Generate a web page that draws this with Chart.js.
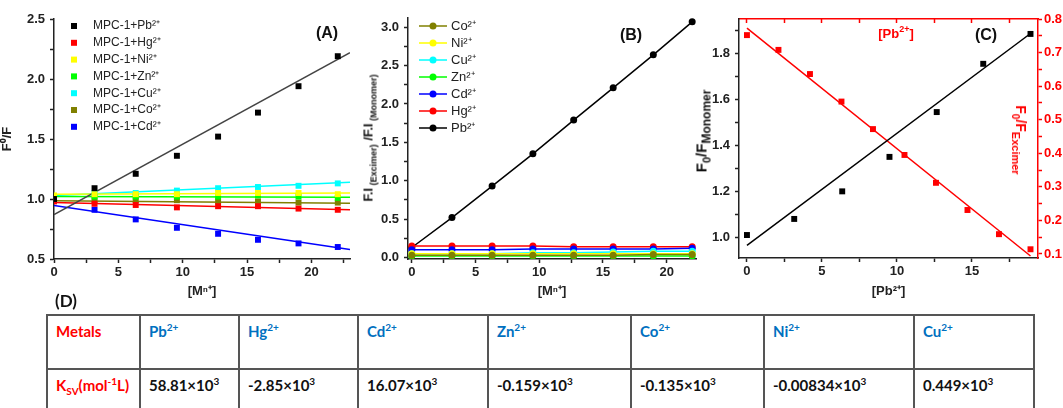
<!DOCTYPE html>
<html lang="en">
<head>
<meta charset="UTF-8" />
<title>MPC-1 quenching plots</title>
<script src="https://cdn.jsdelivr.net/npm/chart.js"></script>
<style>
  body {
    margin: 0;
    width: 1063px;
    height: 408px;
    overflow: hidden;
    background: #fff;
    position: relative;
    font-family: "Liberation Sans", Arial, sans-serif;
  }
  canvas { position: absolute; top: 0; }
  #chartA { left: 0; }
  #chartB { left: 355px; }
  #chartC { left: 690px; }
  .tag {
    position: absolute;
    transform: translate(-50%, -50%);
    white-space: nowrap;
    font-weight: bold;
    color: #111;
  }
  .panel { font-size: 16px; }
  .rotL { transform: translate(-50%, -50%) rotate(-90deg); }
  .rotR { transform: translate(-50%, -50%) rotate(90deg); }
  .tag sub, .tag sup { line-height: 0; }
  table {
    position: absolute;
    left: 46px;
    top: 314px;
    border-collapse: collapse;
    table-layout: fixed;
    font-family: Lato, "Open Sans", sans-serif;
    font-weight: bold;
    font-size: 15px;
  }
  td {
    border: 2px solid #555;
    height: 46px;
    vertical-align: top;
    padding: 6px 8px 0 8px;
    line-height: 18px;
    color: #111;
  }
  td sup, td sub { font-size: 10px; line-height: 0; }
  .red { color: #ff0000; }
  .blue { color: #0070c0; }
</style>
</head>
<body>
<canvas id="chartA" width="355" height="300"></canvas>
<canvas id="chartB" width="345" height="300"></canvas>
<canvas id="chartC" width="373" height="300"></canvas>

<div class="tag panel" style="left:327px; top:33px;">(A)</div>
<div class="tag panel" style="left:631px; top:35px;">(B)</div>
<div class="tag panel" style="left:986px; top:35px;">(C)</div>

<div class="tag rotL" style="left:368px; top:138px; font-size:13px;">F.I<sub style="font-size:9px;"> (Excimer)</sub> /F.I<sub style="font-size:9px;"> (Monomer)</sub></div>
<div class="tag rotL" style="left:701px; top:131px; font-size:15px;">F<sub style="font-size:11px;">0</sub>/F<sub style="font-size:12px;">Monomer</sub></div>
<div class="tag rotR" style="left:1021px; top:140px; font-size:14px; color:#ff0000;">F<sub style="font-size:10px;">0</sub>/F<sub style="font-size:11px;">Excimer</sub></div>
<div class="tag" style="left:896px; top:33px; font-size:13px; color:#ff0000;">[Pb<sup style="font-size:9px;">2+</sup>]</div>

<div class="tag" style="left:66px; top:300px; font-size:17px; font-family:Lato, sans-serif;">(D)</div>

<table>
  <colgroup>
    <col style="width:93px"><col style="width:99px"><col style="width:119px"><col style="width:130px">
    <col style="width:143px"><col style="width:133px"><col style="width:150px"><col style="width:120px">
  </colgroup>
  <tr>
    <td class="red">Metals</td>
    <td class="blue">Pb<sup>2+</sup></td>
    <td class="blue">Hg<sup>2+</sup></td>
    <td class="blue">Cd<sup>2+</sup></td>
    <td class="blue">Zn<sup>2+</sup></td>
    <td class="blue">Co<sup>2+</sup></td>
    <td class="blue">Ni<sup>2+</sup></td>
    <td class="blue">Cu<sup>2+</sup></td>
  </tr>
  <tr>
    <td class="red">K<sub>SV</sub>(mol<sup>-1</sup>L)</td>
    <td>58.81×10<sup>3</sup></td>
    <td>-2.85×10<sup>3</sup></td>
    <td>16.07×10<sup>3</sup></td>
    <td>-0.159×10<sup>3</sup></td>
    <td>-0.135×10<sup>3</sup></td>
    <td>-0.00834×10<sup>3</sup></td>
    <td>0.449×10<sup>3</sup></td>
  </tr>
</table>

<script>
  const FONT = '"Liberation Sans", Arial, sans-serif';

  // ---- (A) F0/F vs [M n+] ----
  const aX = [0, 3.15, 6.35, 9.55, 12.75, 15.85, 19.0, 22.05];
  const aPb = [1.00, 1.09, 1.21, 1.36, 1.52, 1.72, 1.94, 2.19];
  const aHg = [0.98, 0.96, 0.95, 0.93, 0.94, 0.94, 0.92, 0.91];
  const aNi = [1.03, 1.04, 1.04, 1.04, 1.05, 1.05, 1.05, 1.04];
  const aZn = [1.00, 1.02, 1.02, 1.02, 1.02, 1.03, 1.02, 1.01];
  const aCu = [1.00, 1.05, 1.05, 1.07, 1.09, 1.10, 1.11, 1.13];
  const aCo = [1.00, 0.99, 0.99, 0.99, 0.98, 0.98, 0.97, 0.97];
  const aCd = [1.00, 0.91, 0.83, 0.76, 0.71, 0.66, 0.63, 0.60];
  // fitted lines, read at both ends
  const aFitX = [0, 23];
  const aFitPb = [0.87, 2.22];
  const aFitHg = [0.97, 0.91];
  const aFitNi = [1.04, 1.05];
  const aFitZn = [1.02, 1.015];
  const aFitCu = [1.03, 1.14];
  const aFitCo = [0.985, 0.965];
  const aFitCd = [0.945, 0.58];
  const aNames = ['MPC-1+Pb²⁺', 'MPC-1+Hg²⁺', 'MPC-1+Ni²⁺', 'MPC-1+Zn²⁺', 'MPC-1+Cu²⁺', 'MPC-1+Co²⁺', 'MPC-1+Cd²⁺'];
  const aXMajor = [0, 5, 10, 15, 20];
  const aXMinor = [2.5, 7.5, 12.5, 17.5, 22.5];
  const aYMajor = [0.5, 1.0, 1.5, 2.0, 2.5];
  const aYMinor = [0.75, 1.25, 1.75, 2.25];

  // ---- (B) F.I excimer / F.I monomer ----
  const bX = [0, 3.15, 6.3, 9.5, 12.7, 15.8, 18.95, 22.0];
  const bCo = [0.03, 0.03, 0.03, 0.03, 0.03, 0.03, 0.04, 0.04];
  const bNi = [0.05, 0.05, 0.05, 0.05, 0.05, 0.05, 0.05, 0.05];
  const bCu = [0.05, 0.05, 0.05, 0.06, 0.06, 0.07, 0.08, 0.08];
  const bZn = [0.02, 0.02, 0.02, 0.02, 0.02, 0.02, 0.02, 0.02];
  const bCd = [0.10, 0.10, 0.10, 0.11, 0.11, 0.11, 0.11, 0.12];
  const bHg = [0.15, 0.15, 0.15, 0.15, 0.14, 0.14, 0.14, 0.14];
  const bPb = [0.13, 0.52, 0.93, 1.35, 1.79, 2.21, 2.64, 3.07];
  const bNames = ['Co²⁺', 'Ni²⁺', 'Cu²⁺', 'Zn²⁺', 'Cd²⁺', 'Hg²⁺', 'Pb²⁺'];
  const bXMajor = [0, 5, 10, 15, 20];
  const bXMinor = [2.5, 7.5, 12.5, 17.5];
  const bYMajor = [0.0, 0.5, 1.0, 1.5, 2.0, 2.5, 3.0];
  const bYMinor = [0.25, 0.75, 1.25, 1.75, 2.25, 2.75];

  // ---- (C) monomer (left) and excimer (right) vs [Pb2+] ----
  const cMonoX = [0, 3.15, 6.35, 9.5, 12.65, 15.75, 18.9];
  const cMono = [1.01, 1.08, 1.20, 1.35, 1.545, 1.755, 1.885];
  const cMonoFitX = [0, 18.9];
  const cMonoFit = [0.965, 1.887];
  const cExciX = [0, 2.1, 4.2, 6.3, 8.4, 10.5, 12.6, 14.7, 16.8, 18.9];
  const cExci = [0.752, 0.708, 0.636, 0.554, 0.472, 0.395, 0.312, 0.231, 0.159, 0.114];
  const cExciFitX = [0, 18.9];
  const cExciFit = [0.773, 0.094];
  const cXMajor = [0, 5, 10, 15];
  const cXMinor = [2.5, 7.5, 12.5, 17.5];
  const cYMajor = [1.0, 1.2, 1.4, 1.6, 1.8];
  const cYMinor = [1.1, 1.3, 1.5, 1.7, 1.9];
  const cY2Major = [0.1, 0.2, 0.3, 0.4, 0.5, 0.6, 0.7, 0.8];
  const cY2Minor = [0.15, 0.25, 0.35, 0.45, 0.55, 0.65, 0.75];

  const metalColors = {
    Pb: '#000000', Hg: '#ff0000', Ni: '#ffff00', Zn: '#00ff00',
    Cu: '#00ffff', Co: '#808000', Cd: '#0000ff'
  };

  function pts(xs, ys) {
    return xs.map((x, i) => ({ x: x, y: ys[i] }));
  }

  // legend drawn inside the plot area
  const insideLegend = {
    id: 'insideLegend',
    afterDatasetsDraw(chart, args, o) {
      if (!o || !o.names) return;
      const ctx = chart.ctx;
      ctx.save();
      ctx.font = o.size + 'px ' + FONT;
      ctx.textBaseline = 'middle';
      o.names.forEach((name, i) => {
        const y = o.y + i * o.row;
        const c = o.colors[i];
        ctx.fillStyle = c;
        ctx.strokeStyle = c;
        if (o.line) {
          ctx.lineWidth = 1.5;
          ctx.beginPath();
          ctx.moveTo(o.x - 14, y);
          ctx.lineTo(o.x + 14, y);
          ctx.stroke();
          ctx.beginPath();
          ctx.arc(o.x, y, 3.5, 0, Math.PI * 2);
          ctx.fill();
        } else {
          ctx.fillRect(o.x - 3, y - 3, 6, 6);
        }
        ctx.fillStyle = '#222';
        ctx.fillText(name, o.tx, y);
      });
      ctx.restore();
    }
  };
  Chart.register(insideLegend);

  function axis(o) {
    const side = o.pos === 'left' || o.pos === 'right';
    const color = o.color || '#222';
    return {
      type: 'linear',
      position: o.pos,
      min: o.min,
      max: o.max,
      afterFit: s => { if (side) s.width = o.size; else s.height = o.size; },
      afterBuildTicks: s => {
        s.ticks = o.major.concat(o.minor).sort((a, b) => a - b).map(v => ({ value: v }));
      },
      ticks: {
        display: o.labels !== false,
        autoSkip: false,
        maxRotation: 0,
        padding: o.pad,
        color: color,
        font: { family: FONT, size: 13, weight: 'bold' },
        callback: v => o.major.includes(v) ? o.fmt(v) : ''
      },
      grid: { drawOnChartArea: false, drawTicks: true, tickLength: o.tl || 4, tickColor: color, tickWidth: 1.5 },
      border: { display: true, color: color, width: 1.5 },
      title: o.title
        ? { display: true, text: o.title, color: color, padding: { top: 0, bottom: 1 },
            font: { family: FONT, size: 13, weight: 'bold' } }
        : { display: false }
    };
  }

  const int = v => String(v);
  const one = v => v.toFixed(1);

  const base = {
    responsive: false,
    maintainAspectRatio: false,
    animation: false,
    events: []
  };

  // ---------- chart A ----------
  const aSeries = [
    ['Pb', aPb, aFitPb], ['Hg', aHg, aFitHg], ['Ni', aNi, aFitNi], ['Zn', aZn, aFitZn],
    ['Cu', aCu, aFitCu], ['Co', aCo, aFitCo], ['Cd', aCd, aFitCd]
  ];
  const aPoints = aSeries.map(s => ({
    label: 'MPC-1+' + s[0], data: pts(aX, s[1]), showLine: false,
    pointStyle: 'rect', pointRadius: 4.2, backgroundColor: metalColors[s[0]], borderWidth: 0
  }));
  const aLines = aSeries.map(s => ({
    label: s[0] + ' fit', data: pts(aFitX, s[2]), showLine: true, pointRadius: 0,
    borderColor: s[0] === 'Pb' ? '#444' : metalColors[s[0]], borderWidth: 1.5
  }));

  new Chart(document.getElementById('chartA'), {
    type: 'scatter',
    data: { datasets: aPoints.concat(aLines) },
    options: Object.assign({}, base, {
      layout: { padding: { left: 0, top: 19, right: 5, bottom: 0 } },
      plugins: {
        legend: { display: false },
        tooltip: { enabled: false },
        insideLegend: {
          names: aNames, colors: aSeries.map(s => metalColors[s[0]]),
          x: 74, tx: 93, y: 26, row: 16.8, size: 12
        }
      },
      scales: {
        x: axis({ pos: 'bottom', min: 0, max: 23, size: 41, pad: 2, major: aXMajor, minor: aXMinor, fmt: int, title: '[Mⁿ⁺]' }),
        y: axis({ pos: 'left', min: 0.5, max: 2.5, size: 54, pad: 5, major: aYMajor, minor: aYMinor, fmt: one, title: 'F⁰/F' })
      }
    })
  });

  // ---------- chart B ----------
  const bSeries = [
    ['Co', bCo], ['Ni', bNi], ['Cu', bCu], ['Zn', bZn], ['Cd', bCd], ['Hg', bHg], ['Pb', bPb]
  ];
  new Chart(document.getElementById('chartB'), {
    type: 'scatter',
    data: {
      datasets: bSeries.map(s => ({
        label: s[0], data: pts(bX, s[1]), showLine: true,
        borderColor: metalColors[s[0]], backgroundColor: metalColors[s[0]], borderWidth: 1.5,
        pointStyle: 'circle', pointRadius: 3.5, pointBorderWidth: 0
      }))
    },
    options: Object.assign({}, base, {
      layout: { padding: { left: 0, top: 18, right: 2, bottom: 0 } },
      plugins: {
        legend: { display: false },
        tooltip: { enabled: false },
        insideLegend: {
          names: bNames, colors: bSeries.map(s => metalColors[s[0]]), line: true,
          x: 78, tx: 96, y: 26, row: 17, size: 13
        }
      },
      scales: {
        x: axis({ pos: 'bottom', min: -0.3, max: 22.3, size: 41, pad: 2, major: bXMajor, minor: bXMinor, fmt: int, title: '[Mⁿ⁺]' }),
        y: axis({ pos: 'left', min: -0.02, max: 3.12, size: 53, pad: 5, major: bYMajor, minor: bYMinor, fmt: one })
      }
    })
  });

  // ---------- chart C ----------
  new Chart(document.getElementById('chartC'), {
    type: 'scatter',
    data: {
      datasets: [
        { label: 'monomer', data: pts(cMonoX, cMono), showLine: false, xAxisID: 'x', yAxisID: 'y',
          pointStyle: 'rect', pointRadius: 4.2, backgroundColor: '#000', borderWidth: 0 },
        { label: 'excimer', data: pts(cExciX, cExci), showLine: false, xAxisID: 'x', yAxisID: 'y2',
          pointStyle: 'rect', pointRadius: 4.2, backgroundColor: '#ff0000', borderWidth: 0 },
        { label: 'monomer fit', data: pts(cMonoFitX, cMonoFit), showLine: true, pointRadius: 0,
          xAxisID: 'x', yAxisID: 'y', borderColor: '#000', borderWidth: 1.5 },
        { label: 'excimer fit', data: pts(cExciFitX, cExciFit), showLine: true, pointRadius: 0,
          xAxisID: 'x', yAxisID: 'y2', borderColor: '#ff0000', borderWidth: 1.5 }
      ]
    },
    options: Object.assign({}, base, {
      layout: { padding: { left: 0, top: 19, right: 0, bottom: 0 } },
      plugins: { legend: { display: false }, tooltip: { enabled: false } },
      scales: {
        x: axis({ pos: 'bottom', min: -0.53, max: 19.4, size: 42, pad: 2, major: cXMajor, minor: cXMinor, fmt: int, title: '[Pb²⁺]' }),
        x2: axis({ pos: 'top', min: -0.53, max: 19.4, size: 0, tl: -4, labels: false, color: '#ff0000', major: cXMajor, minor: cXMinor, fmt: int }),
        y: axis({ pos: 'left', min: 0.91, max: 1.95, size: 49, pad: 5, major: cYMajor, minor: cYMinor, fmt: one }),
        y2: axis({ pos: 'right', min: 0.088, max: 0.8, size: 25, pad: 2, color: '#ff0000', major: cY2Major, minor: cY2Minor, fmt: one })
      }
    })
  });
</script>
</body>
</html>
